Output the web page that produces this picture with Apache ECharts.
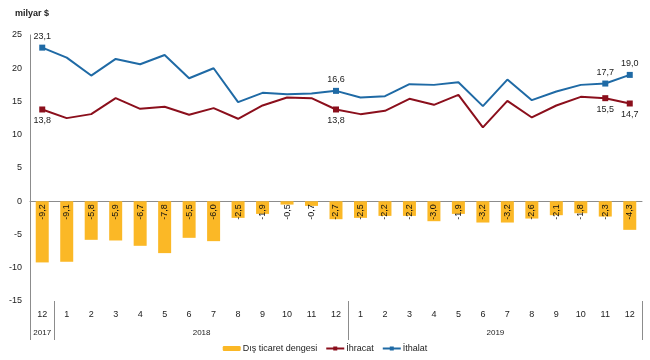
<!DOCTYPE html>
<html>
<head>
<meta charset="utf-8">
<script src="https://cdn.jsdelivr.net/npm/echarts@6/dist/echarts.min.js"></script>
<style>
  html, body { margin: 0; padding: 0; background: #fff; }
  #chart { width: 650px; height: 360px; }
</style>
</head>
<body>
<div id="chart"></div>
<script>
const months = ['12', '1', '2', '3', '4', '5', '6', '7', '8', '9', '10', '11', '12',
  '1', '2', '3', '4', '5', '6', '7', '8', '9', '10', '11', '12']
const yearLabels = ['2017', '', '', '', '', '', '2018', '', '', '', '', '', '',
  '', '', '', '', '', '2019', '', '', '', '', '', '']
const balance = [-9.2, -9.1, -5.8, -5.9, -6.7, -7.8, -5.5, -6.0, -2.5, -1.9, -0.5, -0.7, -2.7,
  -2.5, -2.2, -2.2, -3.0, -1.9, -3.2, -3.2, -2.6, -2.1, -1.8, -2.3, -4.3]
const exports = [13.8, 12.5, 13.1, 15.5, 13.9, 14.2, 13.0, 14.0, 12.4, 14.4, 15.6, 15.5, 13.8,
  13.1, 13.6, 15.4, 14.5, 16.0, 11.1, 15.1, 12.6, 14.4, 15.7, 15.5, 14.7]
const imports = [23.1, 21.6, 18.9, 21.4, 20.6, 22.0, 18.5, 20.0, 14.9, 16.3, 16.1, 16.2, 16.6,
  15.6, 15.8, 17.6, 17.5, 17.9, 14.3, 18.3, 15.2, 16.5, 17.5, 17.7, 19.0]
const labeledIdx = [0, 12, 23, 24]
const yearSeps = [0, 1, 13]

const chart = echarts.init(document.getElementById('chart'))
const fmt = v => v.toFixed(1).replace('.', ',')
const font = 'Liberation Sans, Arial, sans-serif'

const lineData = (arr, pos) => arr.map((v, i) => labeledIdx.includes(i)
  ? { value: v, label: { show: true, position: pos, distance: 4 } }
  : { value: v, symbol: 'none' })

const option = {
  animation: false,
  textStyle: { fontFamily: font },
  title: {
    text: 'milyar $',
    left: 10, top: 4,
    textStyle: { fontSize: 9, fontWeight: 'bold', color: '#222', fontFamily: font }
  },
  grid: { left: 30, right: 8, top: 35, bottom: 59 },
  legend: {
    bottom: 2, left: 'center',
    itemWidth: 18, itemHeight: 5, itemGap: 8,
    textStyle: { fontSize: 9, color: '#222', fontFamily: font, padding: [0, 0, 0, -3] },
    data: ['Dış ticaret dengesi', 'İhracat', 'İthalat']
  },
  xAxis: [
    {
      type: 'category', data: months,
      axisLine: { onZero: true, lineStyle: { color: '#8c8c8c', width: 1 } },
      axisTick: { show: false }, axisLabel: { show: false }
    },
    {
      type: 'category', data: months, position: 'bottom',
      axisLine: { show: false }, axisTick: { show: false },
      axisLabel: { margin: 9, fontSize: 9, color: '#222', fontFamily: font }
    },
    {
      type: 'category', data: yearLabels, position: 'bottom',
      axisLine: { show: false },
      axisTick: {
        show: true, length: 39,
        interval: (i) => yearSeps.includes(i),
        lineStyle: { color: '#8c8c8c' }
      },
      axisLabel: {
        margin: 28, fontSize: 8, color: '#222', fontFamily: font,
        interval: 0,
        formatter: (v, i) => i === 0 ? v : (v ? '{s|' + v + '}' : ''),
        rich: { s: { fontSize: 8, color: '#222', fontFamily: font, padding: [0, 0, 0, 25] } }
      }
    }
  ],
  yAxis: {
    type: 'value', min: -15, max: 25, interval: 5,
    axisLine: { show: true, lineStyle: { color: '#8c8c8c' } },
    axisTick: { show: false },
    splitLine: { show: false },
    axisLabel: { fontSize: 9, color: '#222', margin: 8, fontFamily: font }
  },
  series: [
    {
      name: 'Dış ticaret dengesi', type: 'bar',
      data: balance, barWidth: 13,
      itemStyle: { color: '#fbb826' },
      label: {
        show: true, position: 'insideTop', rotate: 90,
        align: 'right', verticalAlign: 'middle', distance: 3,
        fontSize: 9, color: '#111', fontFamily: font,
        formatter: p => fmt(p.value)
      }
    },
    {
      name: 'İhracat', type: 'line',
      data: lineData(exports, 'bottom'),
      symbol: 'rect', symbolSize: 6,
      lineStyle: { color: '#8b0f1c', width: 2 },
      itemStyle: { color: '#8b0f1c' },
      label: { fontSize: 9, color: '#222', fontFamily: font, formatter: p => fmt(p.value) },
      z: 3
    },
    {
      name: 'İthalat', type: 'line',
      data: lineData(imports, 'top'),
      symbol: 'rect', symbolSize: 6,
      lineStyle: { color: '#1f6aa5', width: 2 },
      itemStyle: { color: '#1f6aa5' },
      label: { fontSize: 9, color: '#222', fontFamily: font, formatter: p => fmt(p.value) },
      z: 3
    }
  ]
}
chart.setOption(option)
</script>
</body>
</html>
